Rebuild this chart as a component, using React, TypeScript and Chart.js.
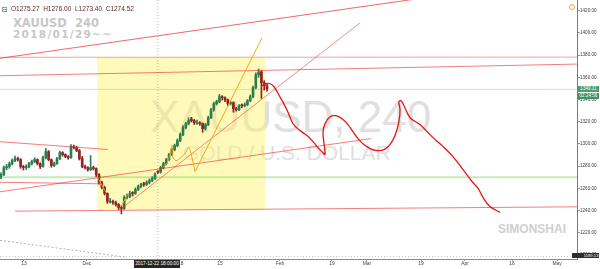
import React, { useEffect, useRef } from "react";
import { Chart, registerables } from "chart.js";

Chart.register(...registerables);

// ---- Candles (4h XAUUSD, resampled, one entry per bar slot) ----
const opens = [
  1270.5, 1272.4, 1278.7, 1279.6, 1282.3, 1285.0, 1286.8, 1285.9, 1279.6, 1278.7,
  1279.6, 1282.3, 1284.1, 1285.9, 1282.3, 1279.6, 1287.7, 1293.1, 1285.9, 1280.5,
  1282.3, 1286.8, 1292.2, 1290.4, 1288.6, 1287.7, 1297.6, 1296.7, 1294.0, 1286.8,
  1279.6, 1278.7, 1276.9, 1278.7, 1277.8, 1272.4, 1265.3, 1260.8, 1255.4, 1247.5,
  1248.2, 1247.3, 1245.5, 1242.8, 1241.9, 1251.8, 1252.7, 1256.2, 1255.4, 1259.0,
  1261.7, 1264.2, 1263.5, 1265.3, 1267.1, 1268.9, 1275.27, 1274.52, 1278.7, 1282.3,
  1285.9, 1290.4, 1294.9, 1298.5, 1303.0, 1308.4, 1314.7, 1318.2, 1322.5, 1321.0,
  1318.5, 1319.1, 1318.2, 1313.8, 1317.4, 1323.6, 1330.8, 1336.2, 1338.0, 1342.5,
  1341.6, 1339.8, 1336.2, 1337.1, 1331.7, 1330.8, 1335.2, 1334.4, 1335.3, 1338.9,
  1342.5, 1350.6, 1362.3, 1364.9, 1355.1, 1352.4,
];
const highs = [
  1274.0, 1280.2, 1281.5, 1283.8, 1286.5, 1289.0, 1288.2, 1286.8, 1280.8, 1281.2,
  1283.5, 1285.5, 1287.5, 1286.6, 1283.0, 1289.0, 1296.0, 1294.0, 1286.5, 1283.8,
  1288.0, 1293.5, 1293.0, 1291.2, 1289.5, 1299.5, 1299.0, 1298.0, 1295.0, 1288.8,
  1281.0, 1279.5, 1289.5, 1280.0, 1278.5, 1273.2, 1266.5, 1262.0, 1256.0, 1251.0,
  1249.5, 1248.5, 1246.3, 1244.5, 1253.5, 1254.8, 1257.5, 1257.0, 1260.5, 1263.0,
  1264.8, 1265.5, 1266.8, 1268.5, 1270.5, 1274.0, 1276.0, 1280.0, 1283.5, 1287.0,
  1291.5, 1296.0, 1299.8, 1304.5, 1310.0, 1316.5, 1319.5, 1323.5, 1324.0, 1322.0,
  1321.5, 1320.0, 1319.0, 1318.5, 1325.0, 1332.0, 1337.5, 1339.5, 1344.5, 1343.5,
  1342.5, 1340.5, 1338.5, 1338.0, 1333.0, 1335.5, 1336.0, 1336.8, 1340.0, 1344.0,
  1352.0, 1364.0, 1367.5, 1366.0, 1357.0, 1354.0,
];
const lows = [
  1268.8, 1271.5, 1276.8, 1278.0, 1281.0, 1284.0, 1284.5, 1278.0, 1276.5, 1277.0,
  1278.5, 1281.0, 1283.0, 1281.0, 1277.8, 1279.0, 1286.5, 1284.8, 1279.0, 1279.5,
  1281.5, 1285.8, 1289.0, 1287.5, 1286.2, 1287.0, 1295.5, 1293.0, 1285.5, 1278.5,
  1277.5, 1275.5, 1276.0, 1276.5, 1270.5, 1263.8, 1259.5, 1254.0, 1246.5, 1246.8,
  1245.5, 1244.0, 1241.0, 1237.0, 1241.0, 1250.5, 1251.5, 1253.0, 1254.5, 1258.0,
  1260.5, 1261.8, 1262.5, 1264.0, 1266.0, 1268.0, 1273.4, 1273.8, 1277.5, 1281.0,
  1285.0, 1289.5, 1293.8, 1297.5, 1302.0, 1307.5, 1313.5, 1317.0, 1319.8, 1317.5,
  1317.5, 1316.8, 1310.5, 1312.5, 1316.5, 1322.8, 1329.5, 1335.0, 1337.0, 1339.5,
  1338.0, 1334.5, 1335.0, 1328.5, 1329.5, 1330.0, 1332.5, 1333.5, 1334.5, 1338.0,
  1341.5, 1349.5, 1360.0, 1341.0, 1348.5, 1347.5,
];
const closes = [
  1272.4, 1278.7, 1279.6, 1282.3, 1285.0, 1286.8, 1285.9, 1279.6, 1278.7, 1279.6,
  1282.3, 1284.1, 1285.9, 1282.3, 1279.6, 1287.7, 1293.1, 1285.9, 1280.5, 1282.3,
  1286.8, 1292.2, 1290.4, 1288.6, 1287.7, 1297.6, 1296.7, 1294.0, 1286.8, 1279.6,
  1278.7, 1276.9, 1278.7, 1277.8, 1272.4, 1265.3, 1260.8, 1255.4, 1248.2, 1248.2,
  1247.3, 1245.5, 1242.8, 1241.9, 1251.8, 1252.7, 1255.4, 1255.4, 1259.0, 1261.7,
  1263.5, 1263.5, 1265.3, 1267.1, 1268.9, 1272.4, 1274.52, 1278.7, 1282.3, 1285.9,
  1290.4, 1294.9, 1298.5, 1303.0, 1308.4, 1314.7, 1318.2, 1321.0, 1321.0, 1319.1,
  1319.1, 1318.2, 1313.8, 1317.4, 1323.6, 1330.8, 1336.2, 1338.0, 1342.5, 1341.6,
  1339.8, 1336.2, 1337.1, 1331.7, 1330.8, 1334.4, 1334.4, 1335.3, 1338.9, 1342.5,
  1350.6, 1362.3, 1364.9, 1355.1, 1352.4, 1349.7,
];

// ---- Axes ----
const yTicks = [1200, 1220, 1240, 1260, 1280, 1300, 1320, 1340, 1360, 1380, 1400, 1420];
const xTickPos = [8.2, 30.7, 63.2, 78.2, 99.6, 118.2, 130.7, 150.0, 165.7, 182.5, 198.6];
const xTickLabels = ["13", "Dec", "2018", "15", "Feb", "19", "Mar", "19", "Apr", "16", "May"];
const xRange = [-0.357, 205.7];
const yRange = [1196.4, 1429.6];

// ---- Drawings: [bar index, price] ----
const topDiag = [[-0.36, 1377.1], [153.2, 1432.3]];
const flat1378 = [[-0.36, 1378.0], [205.7, 1378.2]];
const upper1361 = [[-0.36, 1361.4], [205.7, 1371.9]];
const leftChannelTop = [[-0.36, 1302.0], [38.2, 1295.0]];
const leftChannelLow = [[-0.36, 1265.5], [35.4, 1264.1]];
const longRise = [[-0.36, 1256.9], [132.1, 1304.8]];
const support1270 = [[-0.36, 1270.0], [205.7, 1270.0]];
const floorLine = [[5.0, 1239.5], [205.7, 1243.4]];
const trendUp = [[42.1, 1240.1], [128.2, 1408.9]];
const orangeLong = [[69.3, 1275.1], [93.2, 1395.5]];
const orangeWave = [
  [57.9, 1278.7], [59.6, 1284.1], [61.1, 1298.5], [61.3, 1288.6], [62.5, 1285.0],
  [64.3, 1287.7], [66.1, 1293.1], [67.1, 1296.7], [68.2, 1287.7], [69.3, 1275.1],
];
const orangeDrop = [[34.3, 1270.7], [37.5, 1256.3]];
const orangeLift = [[42.9, 1243.7], [45.0, 1253.6]];
const forecast = [
  [93.2, 1352.4], [94.6, 1354.2], [96.1, 1354.2], [97.5, 1351.5], [99.6, 1342.5],
  [102.1, 1330.8], [104.3, 1318.2], [106.8, 1312.0], [109.3, 1307.5], [111.4, 1302.1],
  [113.2, 1296.7], [114.6, 1293.1], [115.7, 1290.4], [115.4, 1299.4], [115.0, 1310.2],
  [115.7, 1318.2], [117.5, 1324.5], [119.6, 1325.4], [121.8, 1322.7], [123.9, 1317.4],
  [125.7, 1311.1], [127.5, 1304.8], [129.6, 1299.4], [131.8, 1295.8], [134.3, 1294.0],
  [136.8, 1294.9], [138.9, 1299.4], [140.7, 1307.5], [142.1, 1320.0], [142.5, 1330.8],
  [142.1, 1338.0], [142.9, 1338.9], [143.9, 1334.4], [146.1, 1323.6], [149.6, 1317.4],
  [154.3, 1305.7], [157.9, 1297.6], [161.4, 1288.6], [165.0, 1276.9], [168.2, 1266.2],
  [170.4, 1259.9], [172.1, 1251.8], [174.6, 1243.7], [178.2, 1238.3],
];
const dottedDiag = [[-0.36, 1213.2], [45.0, 1197.9]];
const bottomDots = [[-0.36, 1198.6], [205.7, 1198.6]];
const lastPrice = 1349.11;
const crosshairIndex = 56;
const boxX = [34.3, 94.3];
const boxPrice = [1240.5, 1377.5];

const FONT = "'Liberation Sans', Arial, sans-serif";
const UP = "#2b7d4e";
const DOWN = "#8e2424";
const PINK = (a: number) => `rgba(235,40,40,${a})`;
const ORANGE = "rgba(245,160,20,0.95)";

const pts = (arr: number[][]) => arr.map(([x, y]) => ({ x, y }));

function lineDs(arr: number[][], color: string, width: number, order: number, extra: any = {}) {
  return {
    type: "line",
    data: pts(arr),
    borderColor: color,
    borderWidth: width,
    pointRadius: 0,
    fill: false,
    tension: 0,
    order,
    ...extra,
  };
}

export default function App() {
  const ref = useRef<HTMLCanvasElement>(null);

  useEffect(() => {
    const colors = closes.map((c, i) => (c >= opens[i] ? UP : DOWN));
    const bodyData = closes.map((c, i) => ({ x: i, y: [opens[i], c] }));
    const wickData = closes.map((_, i) => ({ x: i, y: [lows[i], highs[i]] }));

    const datasets: any[] = [
      lineDs(forecast, "#e61414", 1.3, 0, { tension: 0.35 }),
      lineDs(orangeLong, ORANGE, 1, 1),
      lineDs(orangeWave, ORANGE, 1, 1, { tension: 0.3 }),
      lineDs(orangeDrop, ORANGE, 1, 1),
      lineDs(orangeLift, ORANGE, 1, 1),
      lineDs(topDiag, PINK(0.7), 1, 2),
      lineDs(flat1378, PINK(0.35), 1.2, 2),
      lineDs(upper1361, PINK(0.6), 1, 2),
      lineDs(leftChannelTop, PINK(0.6), 1, 2),
      lineDs(leftChannelLow, PINK(0.6), 1, 2),
      lineDs(longRise, PINK(0.6), 1, 2),
      lineDs(floorLine, PINK(0.6), 1, 2),
      lineDs(trendUp, PINK(0.55), 1, 2),
      {
        type: "bar",
        data: bodyData,
        backgroundColor: colors,
        borderWidth: 0,
        grouped: false,
        categoryPercentage: 1,
        barPercentage: 1,
        maxBarThickness: 2,
        minBarLength: 1,
        order: 5,
      },
      {
        type: "bar",
        data: wickData,
        backgroundColor: colors,
        borderWidth: 0,
        grouped: false,
        categoryPercentage: 1,
        barPercentage: 1,
        maxBarThickness: 1,
        order: 6,
      },
      lineDs(support1270, "rgba(110,200,80,0.4)", 2, 7),
      lineDs([[xRange[0], lastPrice], [xRange[1], lastPrice]], "rgba(150,170,170,0.35)", 1, 8),
      lineDs([[crosshairIndex, yRange[0]], [crosshairIndex, yRange[1]]], "#bdbdbd", 1, 8, { borderDash: [1, 2] }),
      lineDs(dottedDiag, "#b0b0b0", 1, 8, { borderDash: [2, 2] }),
      lineDs(bottomDots, "#c8c8c8", 1, 8, { borderDash: [1, 2] }),
      {
        type: "line",
        data: [{ x: boxX[0], y: boxPrice[1] }, { x: boxX[1], y: boxPrice[1] }],
        borderWidth: 0,
        borderColor: "rgba(0,0,0,0)",
        backgroundColor: "rgba(255,243,90,0.42)",
        pointRadius: 0,
        fill: { value: boxPrice[0] },
        order: 30,
      },
    ];

    const chart = new Chart(ref.current as HTMLCanvasElement, {
      type: "bar",
      data: { datasets },
      options: {
        animation: false,
        responsive: false,
        events: [],
        layout: { padding: 0 },
        plugins: { legend: { display: false }, tooltip: { enabled: false } },
        scales: {
          x: {
            type: "linear",
            min: xRange[0],
            max: xRange[1],
            offset: false,
            grid: { display: true, drawOnChartArea: false, drawTicks: true, tickLength: 2, color: "#999", offset: false },
            border: { display: true, color: "#8a8a8a" },
            ticks: {
              autoSkip: false,
              maxRotation: 0,
              padding: 0,
              color: "#444",
              font: { family: FONT, size: 4.9 },
              callback: (_v: any, i: number) => xTickLabels[i],
            },
            afterBuildTicks: (s: any) => {
              s.ticks = xTickPos.map((v) => ({ value: v }));
            },
            afterFit: (s: any) => {
              s.height = 10;
              s.paddingLeft = 0;
              s.paddingRight = 0;
            },
          },
          y: {
            type: "linear",
            position: "right",
            min: yRange[0],
            max: yRange[1],
            beginAtZero: false,
            grid: { display: true, drawOnChartArea: false, drawTicks: true, tickLength: 3, color: "#999" },
            border: { display: true, color: "#7a7a7a" },
            ticks: {
              padding: 0,
              color: "#3a3a3a",
              font: { family: FONT, size: 4.6 },
              callback: (v: any) => Number(v).toFixed(2),
            },
            afterBuildTicks: (s: any) => {
              s.ticks = yTicks.map((v) => ({ value: v }));
            },
            afterFit: (s: any) => {
              s.width = 23;
              s.paddingTop = 0;
              s.paddingBottom = 0;
            },
          },
        },
      } as any,
    } as any);
    return () => chart.destroy();
  }, []);

  const abs: any = { position: "absolute", whiteSpace: "pre", lineHeight: 1, margin: 0 };

  return (
    <div
      style={{
        position: "fixed",
        left: 0,
        top: 0,
        width: 600,
        height: 269,
        background: "#fff",
        overflow: "hidden",
        fontFamily: FONT,
      }}
    >
      {/* watermarks (behind the chart) */}
      <div style={{ ...abs, left: 150, top: 94.5, fontSize: 44, color: "#e0e0e0", zIndex: 0 }}>XAUUSD, 240</div>
      <div style={{ ...abs, left: 183, top: 141.7, fontSize: 21, color: "#e0e0e0", zIndex: 0 }}>GOLD / U.S. DOLLAR</div>
      <div style={{ ...abs, left: 498, top: 222.9, fontSize: 12, fontWeight: 700, color: "#cfcfcf", zIndex: 0 }}>SIMONSHAI</div>
      <div
        style={{ ...abs, left: 13, top: 18, fontSize: 11.5, fontWeight: 700, color: "#c8c8c8", fontFamily: "'DejaVu Sans', sans-serif", zIndex: 0 }}
      >
        {"XAUUSD  240"}
      </div>
      <div
        style={{ ...abs, left: 13, top: 29.3, fontSize: 10.5, fontWeight: 700, color: "#c8c8c8", letterSpacing: 1.3, fontFamily: "'DejaVu Sans', sans-serif", zIndex: 0 }}
      >
        2018/01/29~~
      </div>

      <canvas ref={ref} width={600} height={269} style={{ position: "absolute", left: 0, top: 0, zIndex: 1 }} />

      {/* header / overlays */}
      <div
        style={{ position: "absolute", left: 2, top: 6.5, width: 5, height: 5, border: "1px solid #9a9a9a", boxSizing: "border-box", zIndex: 2 }}
      />
      <div style={{ position: "absolute", left: 3, top: 8.5, width: 3, height: 1, background: "#9a9a9a", zIndex: 2 }} />
      <div style={{ ...abs, left: 11, top: 5.5, fontSize: 6.5, color: "#5a2a2a", zIndex: 2 }}>
        {"O1275.27  H1276.00  L1273.40  C1274.52"}
      </div>
      <div
        style={{
          ...abs,
          left: 568.7,
          top: 4.3,
          width: 6,
          height: 6,
          borderRadius: "50%",
          border: "1px solid #f5a040",
          boxSizing: "border-box",
          color: "#f5a040",
          fontSize: 4,
          textAlign: "center",
          lineHeight: "4px",
          zIndex: 2,
        }}
      >
        !
      </div>
      <div
        style={{ ...abs, left: 578, top: 85.5, width: 21, height: 6.5, background: "#4c9c6c", color: "#fff", fontSize: 4.6, lineHeight: "6.5px", textAlign: "center", zIndex: 2 }}
      >
        1349.11
      </div>
      <div
        style={{ ...abs, left: 578, top: 92.5, width: 21, height: 6.5, background: "#3f9263", color: "#fff", fontSize: 4.6, lineHeight: "6.5px", textAlign: "center", zIndex: 2 }}
      >
        02:24:56
      </div>
      <div
        style={{ ...abs, left: 571.5, top: 253.3, width: 27, height: 5, background: "#2f2f2f", color: "#fff", fontSize: 4.2, lineHeight: "5px", textAlign: "right", zIndex: 2 }}
      >
        1199.13
      </div>
      <div
        style={{ ...abs, left: 134, top: 259.8, width: 46, height: 8, background: "#262626", color: "#fff", fontSize: 4.7, lineHeight: "8px", textAlign: "center", zIndex: 2 }}
      >
        2017-12-22 18:00:00
      </div>
    </div>
  );
}
